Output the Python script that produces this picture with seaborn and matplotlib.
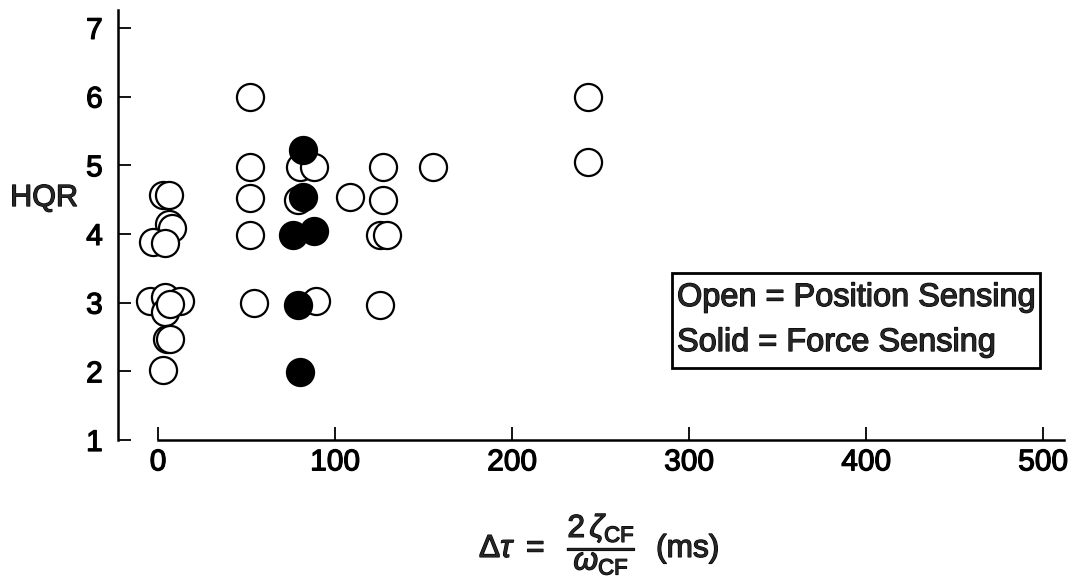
import matplotlib
matplotlib.use("Agg")
import matplotlib.pyplot as plt
import matplotlib.patheffects as pe
from matplotlib.patches import Rectangle
import seaborn as sns
import pandas as pd

# Open circles = position sensing
open_x = [3, 6, 6, 8, -3, 4, -4.5, 4, 12.5, 4, 7, 5, 7, 3,
          52, 52, 52, 52, 54, 80, 88, 79, 89, 108.6, 127, 127, 125.5, 129.5, 125.5, 155.5, 243, 243]
open_y = [4.57, 4.57, 4.14, 4.08, 3.88, 3.87, 3.02, 3.08, 3.02, 2.87, 2.98, 2.47, 2.47, 2.02,
          6.0, 4.98, 4.53, 3.99, 2.99, 4.98, 4.98, 4.49, 3.02, 4.54, 4.98, 4.49, 3.99, 3.99, 2.97, 4.98, 6.0, 5.04]

# Solid circles = force sensing
solid_x = [82, 82, 76, 88, 79, 80]
solid_y = [5.22, 4.54, 3.99, 4.04, 2.96, 1.99]

xticks = [0, 100, 200, 300, 400, 500]
yticks = [1, 2, 3, 4, 5, 6, 7]

legend_lines = ["Open = Position Sensing", "Solid = Force Sensing"]

sns.set_theme(style="ticks")
plt.rcParams['font.family'] = ['Liberation Sans', 'DejaVu Sans']
plt.rcParams['mathtext.fontset'] = 'custom'
plt.rcParams['mathtext.rm'] = 'Liberation Sans'
plt.rcParams['mathtext.it'] = 'Liberation Sans:italic'
plt.rcParams['mathtext.bf'] = 'Liberation Sans:bold'

heavy = [pe.withStroke(linewidth=0.9, foreground="black")]

W, H = 1075, 583
fig = plt.figure(figsize=(W / 100, H / 100), dpi=100)
ax = fig.add_axes([118 / W, 143 / H, 947 / W, 430 / H])

df_open = pd.DataFrame({"x": open_x, "y": open_y})
df_solid = pd.DataFrame({"x": solid_x, "y": solid_y})

sns.scatterplot(data=df_open, x="x", y="y", ax=ax, s=380, marker="o",
                facecolor="white", edgecolor="black", linewidth=1.6, zorder=3, clip_on=False)
sns.scatterplot(data=df_solid, x="x", y="y", ax=ax, s=380, marker="o",
                color="black", edgecolor="black", linewidth=1.6, zorder=4, clip_on=False)

ax.set_xlim(-22.6, 512.4)
ax.set_ylim(1, 7.26)
ax.set_xticks(xticks)
ax.set_yticks(yticks)
ax.set_xticklabels([str(v) for v in xticks], fontsize=21.5)
ax.set_yticklabels([str(v) for v in yticks], fontsize=21.5)
for t in ax.get_xticklabels() + ax.get_yticklabels():
    t.set_path_effects(heavy)
ax.tick_params(axis="both", direction="in", length=9.5, width=1.3, colors="black")
ax.tick_params(axis="x", pad=6)
ax.tick_params(axis="y", pad=11)

for s in ["top", "right"]:
    ax.spines[s].set_visible(False)
ax.spines["bottom"].set_bounds(0, 512)
ax.spines["left"].set_bounds(1, 7.26)
for s in ["left", "bottom"]:
    ax.spines[s].set_linewidth(1.8)
    ax.spines[s].set_color("black")

ax.set_xlabel("")
ax.set_ylabel("")

fig.text(44 / W, 1 - 198 / H, "HQR", fontsize=22, ha="center", va="center",
         path_effects=heavy)
fig.text(599 / W, 1 - 545 / H,
         r"$\Delta\tau\ =\ \ \dfrac{2\,\zeta_{\mathrm{CF}}}{\omega_{\mathrm{CF}}}$  (ms)",
         fontsize=22.8, ha="center", va="center", path_effects=heavy)

# legend box
fig.patches.append(Rectangle((672 / W, 1 - 368 / H), 368 / W, 95 / H,
                             transform=fig.transFigure, fc="white", ec="black",
                             lw=2.0, zorder=5))
fig.text(677 / W, 1 - 298 / H, legend_lines[0], fontsize=23.4, ha="left",
         va="center", zorder=6, path_effects=heavy)
fig.text(677 / W, 1 - 343 / H, legend_lines[1], fontsize=23.4, ha="left",
         va="center", zorder=6, path_effects=heavy)

fig.savefig("out.png", dpi=100, facecolor="white")
